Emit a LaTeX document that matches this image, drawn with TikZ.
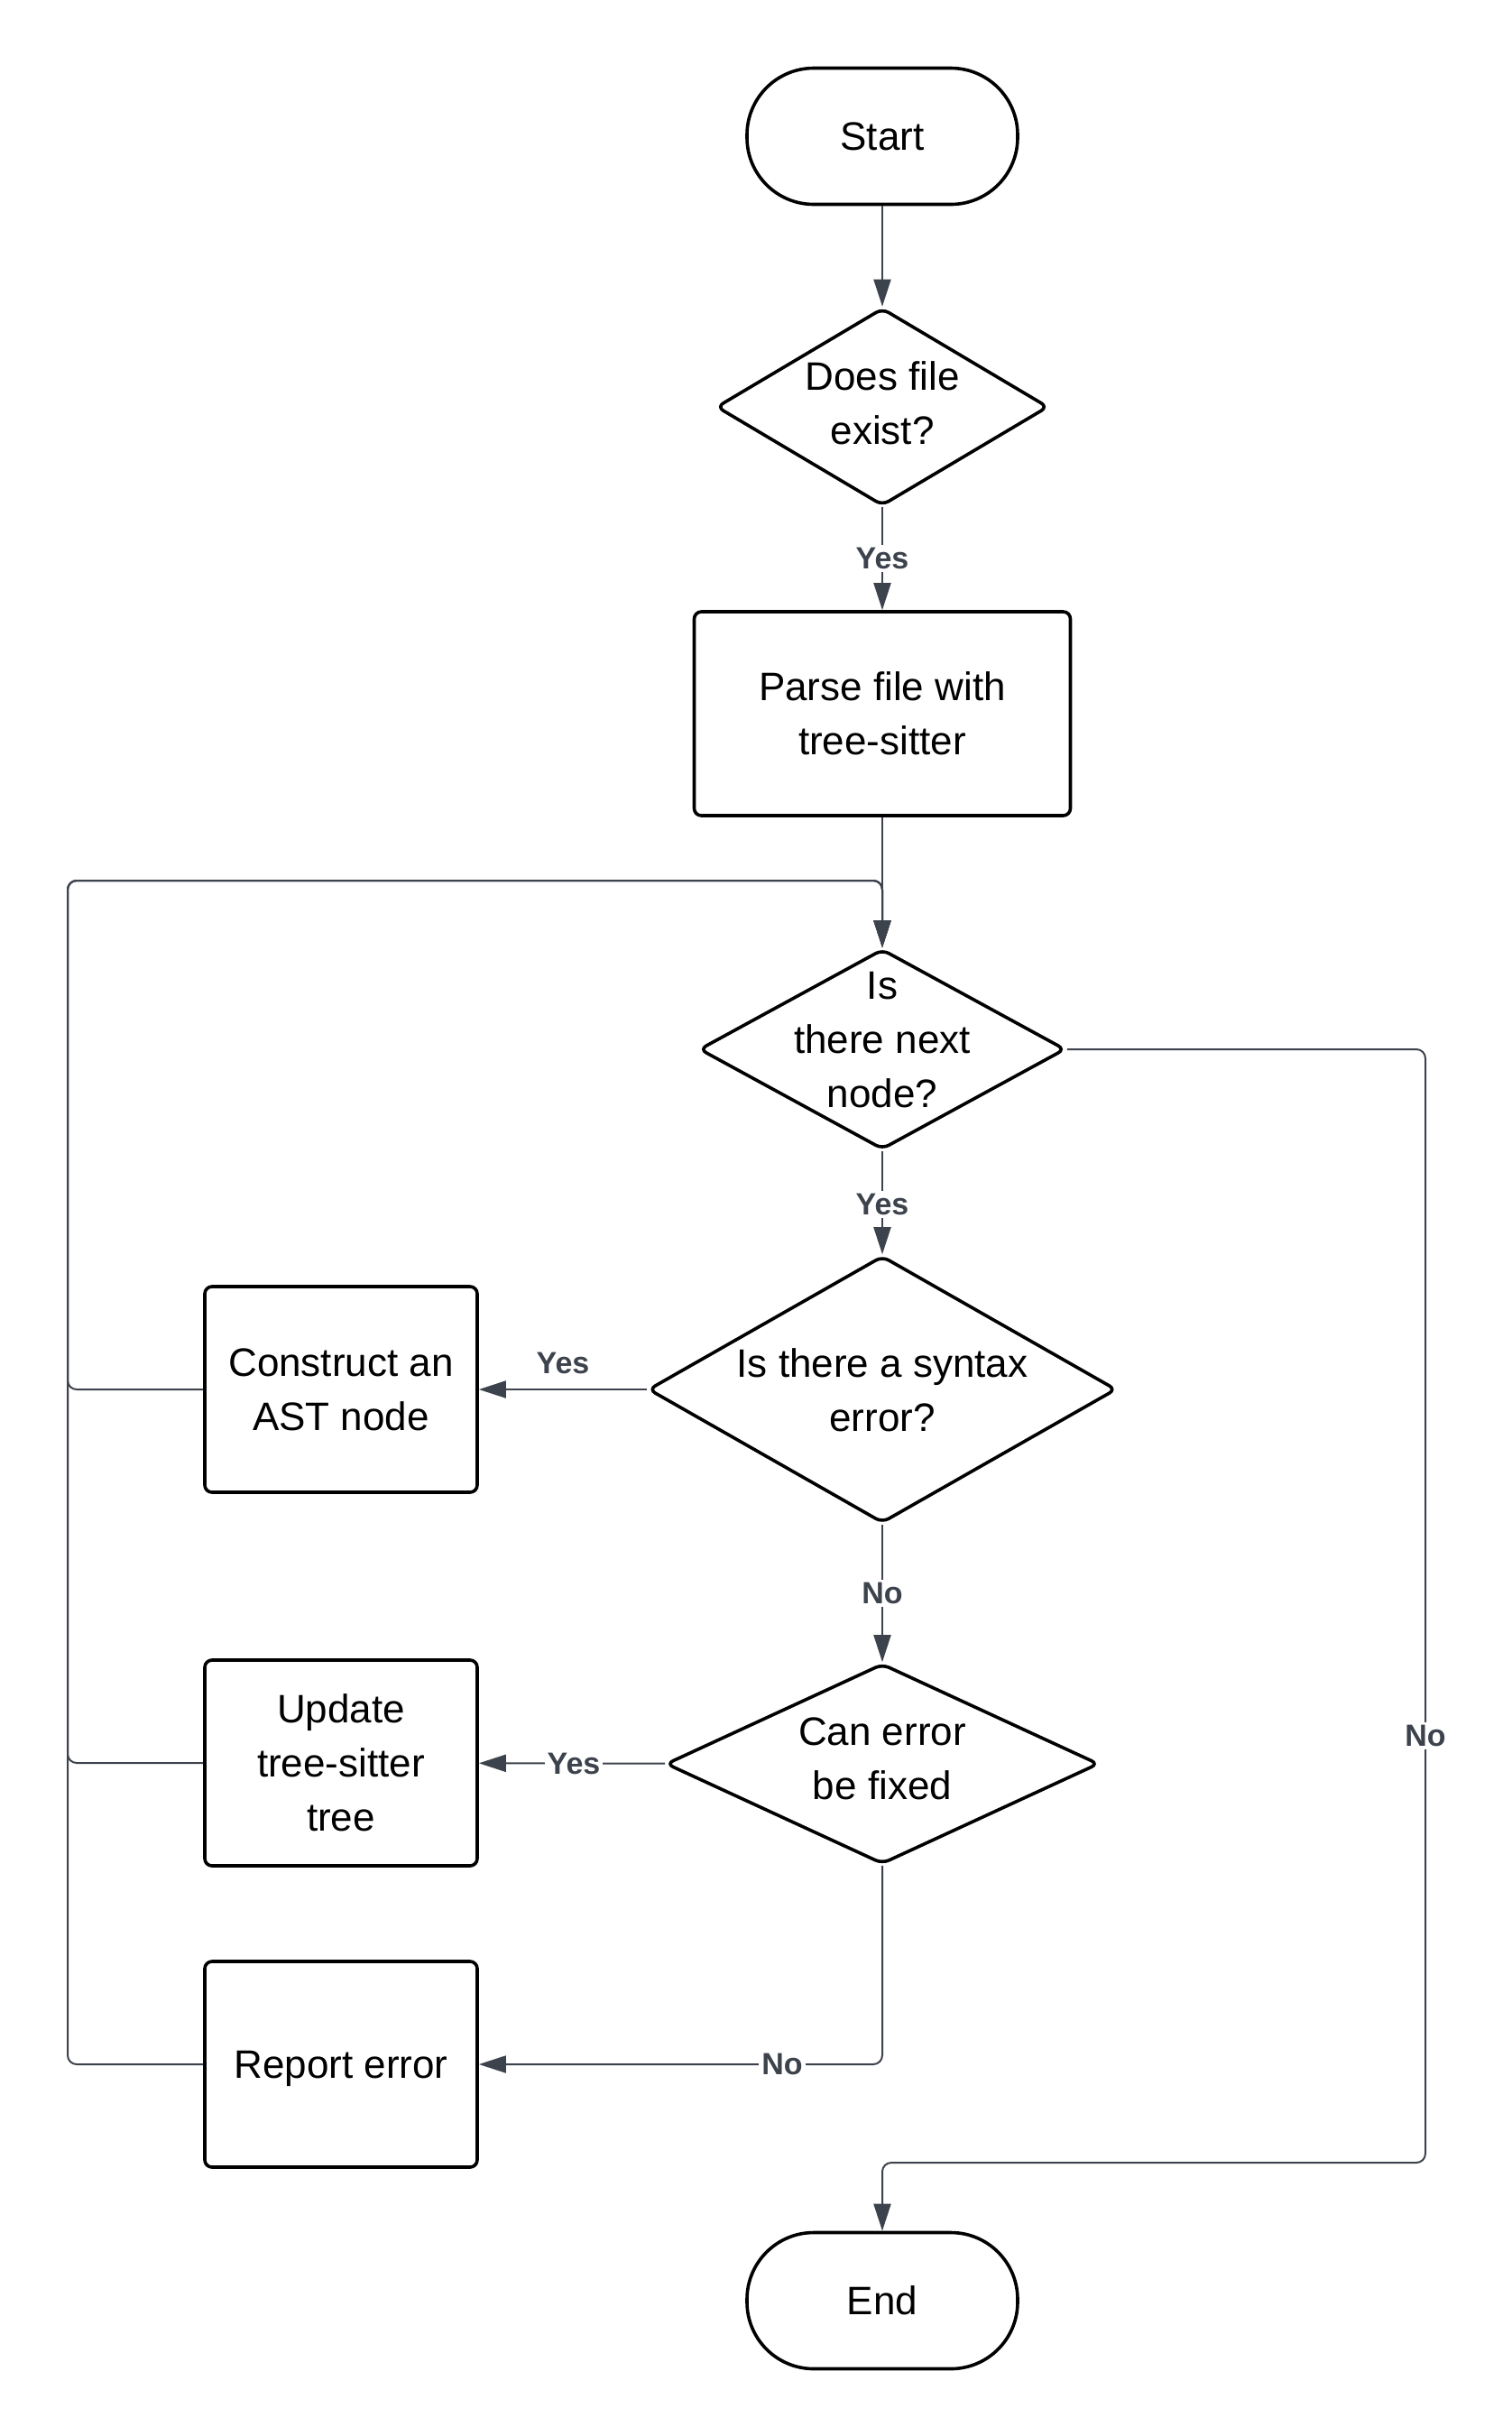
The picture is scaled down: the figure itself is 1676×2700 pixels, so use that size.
\documentclass[tikz,border=0pt]{standalone}
\usepackage{fontspec}
\setmainfont{Liberation Sans}
\usetikzlibrary{shapes.geometric,arrows.meta}
\definecolor{edgec}{HTML}{3D434C}
\begin{document}
\begin{tikzpicture}[x=0.5pt,y=-0.5pt,
  font=\fontsize{22}{30}\selectfont,
  term/.style={draw=black, line width=1.8pt, rounded corners=37pt, minimum width=150pt, minimum height=75.5pt, inner sep=0pt},
  proc/.style={draw=black, line width=1.8pt, rounded corners=4pt, align=center, inner sep=0pt},
  dia/.style={draw=black, line width=1.8pt, diamond, rounded corners=4pt, inner sep=0pt},
  dtext/.style={align=center, inner sep=0pt},
  conn/.style={draw=edgec, line width=1pt, -{Triangle[length=15pt,width=9.5pt]}, rounded corners=5pt},
  lbl/.style={font=\fontsize{17}{19}\selectfont\bfseries, text=edgec, fill=white, inner sep=1.5pt}
]
\useasboundingbox (0,0) rectangle (1676,2700);

% nodes
\node[term] (start) at (978,151) {Start};
\node[dia, minimum width=184pt, minimum height=109.5pt] (d1) at (978,451) {};
\node[dtext] (d1t) at (978,447) {Does file\\exist?};
\node[proc, minimum width=208.5pt, minimum height=113pt] (parse) at (978,791) {Parse file with\\tree-sitter};
\node[dia, minimum width=203pt, minimum height=111pt] (d2) at (978,1163) {};
\node[dtext] (d2t) at (978,1153) {Is\\there next\\node?};
\node[dia, minimum width=259.5pt, minimum height=148pt] (d3) at (978,1540) {};
\node[dtext] (d3t) at (978,1541) {Is there a syntax\\error?};
\node[dia, minimum width=240pt, minimum height=111pt] (d4) at (978,1955) {};
\node[dtext] (d4t) at (978,1949) {Can error\\be fixed};
\node[proc, minimum width=151pt, minimum height=114pt] (cons) at (378,1540) {Construct an\\AST node};
\node[proc, minimum width=151pt, minimum height=114pt] (upd) at (378,1954) {Update\\tree-sitter\\tree};
\node[proc, minimum width=151pt, minimum height=114pt, text depth=0pt] (rep) at (378,2288) {Report error};
\node[term] (end) at (978,2550) {End};

\coordinate (lx) at (75,976);
\coordinate (rb) at (1580,2397);

% connectors
\draw[conn] (start) -- (d1);
\draw[conn] (d1) -- (parse);
\draw[conn] (parse) -- (d2);
\draw[conn] (d2) -- (d3);
\draw[conn] (d3) -- (cons);
\draw[conn] (d3) -- (d4);
\draw[conn] (d4) -- (upd);
\draw[conn] (d4.south) |- (rep.east);
\draw[conn] (cons.west) -| (lx) -| (d2.north);
\draw[conn] (upd.west) -| (lx) -| (d2.north);
\draw[conn] (rep.west) -| (lx) -| (d2.north);
\draw[conn] (d2.east) -| (rb) -| (end.north);

% labels
\node[lbl] (l1) at (978,619) {Yes};
\node[lbl] (l2) at (978,1335) {Yes};
\node[lbl, fill=none] (l3) at (624,1511) {Yes};
\node[lbl] (l4) at (978,1766) {No};
\node[lbl] (l5) at (636,1955) {Yes};
\node[lbl] (l6) at (867,2288) {No};
\node[lbl] (l7) at (1580,1924) {No};
\end{tikzpicture}
\end{document}
